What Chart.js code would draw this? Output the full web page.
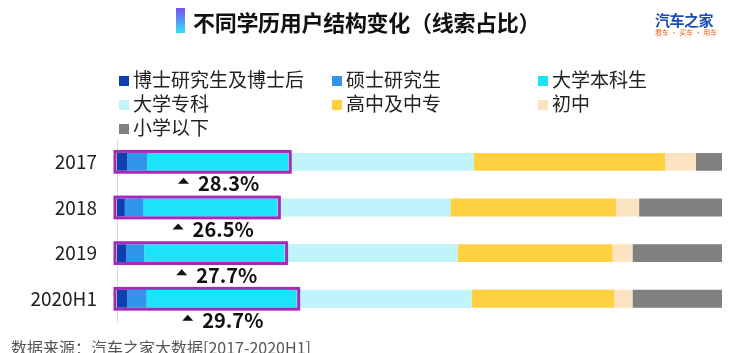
<!DOCTYPE html>
<html>
<head>
<meta charset="utf-8">
<script src="https://cdn.jsdelivr.net/npm/chart.js@4.4.1/dist/chart.umd.min.js"></script>
<style>
  body { margin: 0; background: #fff; font-family: "Noto Sans CJK SC", "Noto Sans", sans-serif; }
  #wrap { position: relative; width: 744px; height: 353px; overflow: hidden; }
  #chart { position: absolute; left: 0; top: 0; }
  .title { position: absolute; left: 193px; top: 4px; font-size: 22px; font-weight: bold; color: #111; line-height: 34px; letter-spacing: -0.3px; }
  .bar-icon { position: absolute; left: 176px; top: 8px; width: 9px; height: 25px; background: linear-gradient(#7a4df2, #2fe3f2); }
  .logo { position: absolute; left: 655px; top: 11px; font-size: 15px; font-weight: bold; color: #1b4db3; line-height: 17px; letter-spacing: -0.5px; }
  .logo-sub { position: absolute; left: 655px; top: 28px; font-size: 7px; color: #ee6a1e; line-height: 9px; }
  #legend { position: absolute; left: 119px; top: 67px; }
  .item { position: absolute; font-size: 19px; color: #222; line-height: 24px; white-space: nowrap; }
  .item i { display: inline-block; width: 10px; height: 10px; margin-right: 4px; vertical-align: 1px; }
  .source { position: absolute; left: 11px; top: 336px; font-size: 16px; color: #555; line-height: 22px; }
</style>
</head>
<body>
<div id="wrap">
  <canvas id="chart" width="744" height="353"></canvas>
  <div class="bar-icon"></div>
  <div class="title">不同学历用户结构变化（线索占比）</div>
  <div class="logo">汽车之家</div>
  <div class="logo-sub">看车 · 买车 · 用车</div>
  <div id="legend"></div>
  <div class="source">数据来源：汽车之家大数据[2017-2020H1]</div>
</div>
<script>
const years = ['2017', '2018', '2019', '2020H1'];
const levels = ['博士研究生及博士后', '硕士研究生', '大学本科生', '大学专科', '高中及中专', '初中', '小学以下'];
const colors = ['#0e3fae', '#2f96ec', '#1de3f9', '#bff5fa', '#ffd03f', '#fce4c2', '#818181'];

const doctor = [1.7, 1.3, 1.5, 1.7];
const master = [3.3, 3.0, 3.0, 3.2];
const bachelor = [23.3, 22.2, 23.2, 24.8];
const college = [30.7, 28.6, 28.6, 28.9];
const highSchool = [31.6, 27.4, 25.6, 23.6];
const juniorHigh = [5.1, 3.8, 3.3, 3.0];
const primary = [4.3, 13.7, 14.8, 14.8];

const series = [doctor, master, bachelor, college, highSchool, juniorHigh, primary];

// legend in a 3 column grid
const colX = [0, 213, 419];
const legendEl = document.getElementById('legend');
levels.forEach((name, i) => {
  const d = document.createElement('div');
  d.className = 'item';
  d.style.left = colX[i % 3] + 'px';
  d.style.top = (Math.floor(i / 3) * 24) + 'px';
  d.innerHTML = '<i style="background:' + colors[i] + '"></i>' + name;
  legendEl.appendChild(d);
});

// purple frame round the bachelor+ share and the label under it
const highlight = {
  id: 'highlight',
  afterDatasetsDraw(chart) {
    const ctx = chart.ctx;
    const first = chart.getDatasetMeta(0);
    const third = chart.getDatasetMeta(2);
    years.forEach((y, i) => {
      const b0 = first.data[i];
      const b2 = third.data[i];
      const left = Math.min(b0.base, b0.x);
      const right = b2.x;
      const h = b0.height;
      ctx.save();
      ctx.strokeStyle = '#a42bb7';
      ctx.lineWidth = 3;
      ctx.strokeRect(left - 2, b0.y - h / 2 - 1.5, right - left + 4, h + 3);

      const share = (doctor[i] + master[i] + bachelor[i]).toFixed(1) + '%';
      ctx.font = 'bold 20px "Noto Sans CJK SC", "Noto Sans", sans-serif';
      const tw = ctx.measureText(share).width;
      const total = 11 + 9 + tw;
      const cx = (left + right) / 2 + 16;
      const x0 = cx - total / 2;
      const ly = b0.y + 22;
      ctx.fillStyle = '#111';
      ctx.beginPath();
      ctx.moveTo(x0, ly);
      ctx.lineTo(x0 + 11, ly);
      ctx.lineTo(x0 + 5.5, ly - 6);
      ctx.closePath();
      ctx.fill();
      ctx.textBaseline = 'middle';
      ctx.textAlign = 'left';
      ctx.fillText(share, x0 + 20, ly);
      ctx.restore();
    });
  }
};

Chart.defaults.font.family = '"Noto Sans CJK SC", "Noto Sans", sans-serif';

new Chart(document.getElementById('chart'), {
  type: 'bar',
  data: {
    labels: years,
    datasets: series.map((vals, i) => ({
      label: levels[i],
      data: vals,
      backgroundColor: colors[i],
      borderWidth: 0,
      categoryPercentage: 1,
      barPercentage: 0.39
    }))
  },
  options: {
    indexAxis: 'y',
    responsive: false,
    animation: false,
    layout: { padding: { top: 139, bottom: 27, right: 22, left: 0 } },
    plugins: {
      legend: { display: false },
      tooltip: { enabled: false }
    },
    scales: {
      x: { stacked: true, min: 0, max: 100, display: false },
      y: {
        stacked: true,
        grid: { display: false, drawTicks: false },
        border: { display: true, color: '#d9d9d9', width: 1 },
        ticks: { color: '#222', font: { size: 19 }, padding: 20 },
        afterFit(scale) { scale.width = 117; }
      }
    }
  },
  plugins: [highlight]
});
</script>
</body>
</html>
